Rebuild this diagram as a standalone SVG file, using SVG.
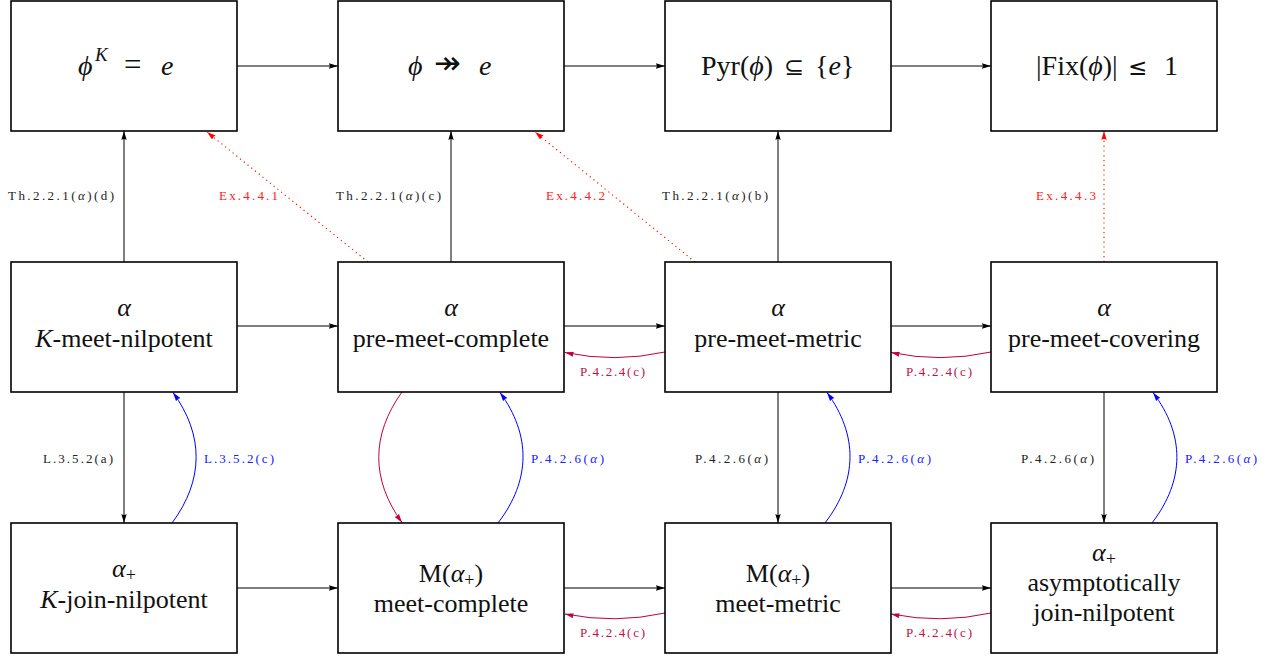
<svg xmlns="http://www.w3.org/2000/svg" width="1276" height="662" viewBox="0 0 1276 662">
<defs>
<style>
.box{fill:#fff;stroke:#000;stroke-width:1.6}
.t{font-family:'Liberation Serif',serif;font-size:26px;fill:#111;text-anchor:middle}
.m{font-family:'Liberation Serif',serif;font-size:28px;fill:#111}
.sym{font-family:'DejaVu Sans',sans-serif}
.i{font-style:italic}
.lb{font-family:'Liberation Serif',serif;font-size:13px;text-anchor:middle}
.k{fill:#222}
.r{fill:#ff2020}
.p{fill:#c0104a}
.b{fill:#2020ff}
.ek{fill:none;stroke:#000;stroke-width:1}
.er{fill:none;stroke:#ff0000;stroke-width:1.1;stroke-dasharray:1.2 3.6}
.ep{fill:none;stroke:#bf0040;stroke-width:1}
.eb{fill:none;stroke:#0000ff;stroke-width:1}
</style>
<marker id="ak" viewBox="0 0 10 6" refX="10" refY="3" markerWidth="9" markerHeight="5.4" markerUnits="userSpaceOnUse" orient="auto"><path d="M0,0 L10,3 L0,6 Q2,3 0,0z" fill="#000"/></marker>
<marker id="ar" viewBox="0 0 10 6" refX="10" refY="3" markerWidth="9" markerHeight="5.4" markerUnits="userSpaceOnUse" orient="auto"><path d="M0,0 L10,3 L0,6 Q2,3 0,0z" fill="#ff0000"/></marker>
<marker id="ap" viewBox="0 0 10 6" refX="10" refY="3" markerWidth="9" markerHeight="5.4" markerUnits="userSpaceOnUse" orient="auto"><path d="M0,0 L10,3 L0,6 Q2,3 0,0z" fill="#bf0040"/></marker>
<marker id="ab" viewBox="0 0 10 6" refX="10" refY="3" markerWidth="9" markerHeight="5.4" markerUnits="userSpaceOnUse" orient="auto"><path d="M0,0 L10,3 L0,6 Q2,3 0,0z" fill="#0000ff"/></marker>
</defs>
<rect width="1276" height="662" fill="#fff"/>

<g id="connectors">
<path class="ek" d="M237,66 H338" marker-end="url(#ak)"/>
<path class="ek" d="M564,66 H665" marker-end="url(#ak)"/>
<path class="ek" d="M891,66 H991" marker-end="url(#ak)"/>
<path class="ek" d="M124,262 V131" marker-end="url(#ak)"/>
<path class="ek" d="M451,262 V131" marker-end="url(#ak)"/>
<path class="ek" d="M778,262 V131" marker-end="url(#ak)"/>
<path class="er" d="M368,262 L207,132" marker-end="url(#ar)"/>
<path class="er" d="M695,262 L535,132" marker-end="url(#ar)"/>
<path class="er" d="M1104,262 V131" marker-end="url(#ar)"/>
<path class="ek" d="M237,326 H338" marker-end="url(#ak)"/>
<path class="ek" d="M564,326 H665" marker-end="url(#ak)"/>
<path class="ek" d="M891,326 H991" marker-end="url(#ak)"/>
<path class="ep" d="M665,352 Q615,363 565,352.5" marker-end="url(#ap)"/>
<path class="ep" d="M991,352 Q941,363 891,352.5" marker-end="url(#ap)"/>
<path class="ek" d="M124,392 V523" marker-end="url(#ak)"/>
<path class="eb" d="M172,523 C204,480 204,435 173,392.5" marker-end="url(#ab)"/>
<path class="ep" d="M402,392 C371,435 371,480 402,522.5" marker-end="url(#ap)"/>
<path class="eb" d="M498,523 C531,480 531,435 500,392.5" marker-end="url(#ab)"/>
<path class="ek" d="M778,392 V523" marker-end="url(#ak)"/>
<path class="eb" d="M825,523 C858,480 858,435 827,392.5" marker-end="url(#ab)"/>
<path class="ek" d="M1104,392 V523" marker-end="url(#ak)"/>
<path class="eb" d="M1152,523 C1185,480 1185,435 1153,392.5" marker-end="url(#ab)"/>
<path class="ek" d="M237,588 H338" marker-end="url(#ak)"/>
<path class="ek" d="M564,588 H665" marker-end="url(#ak)"/>
<path class="ek" d="M891,588 H991" marker-end="url(#ak)"/>
<path class="ep" d="M665,613 Q615,624 565,614" marker-end="url(#ap)"/>
<path class="ep" d="M991,613 Q941,624 891,614" marker-end="url(#ap)"/>

<text class="lb k" x="61" y="200" textLength="106" lengthAdjust="spacing">Th.2.2.1(<tspan class="i">α</tspan>)(d)</text>
<text class="lb r" x="248.5" y="200" textLength="59" lengthAdjust="spacing">Ex.4.4.1</text>
<text class="lb k" x="388.5" y="200" textLength="105" lengthAdjust="spacing">Th.2.2.1(<tspan class="i">α</tspan>)(c)</text>
<text class="lb r" x="575.5" y="200" textLength="59" lengthAdjust="spacing">Ex.4.4.2</text>
<text class="lb k" x="715" y="200" textLength="106" lengthAdjust="spacing">Th.2.2.1(<tspan class="i">α</tspan>)(b)</text>
<text class="lb r" x="1066" y="200" textLength="60" lengthAdjust="spacing">Ex.4.4.3</text>
<text class="lb p" x="612.5" y="376" textLength="65" lengthAdjust="spacing">P.4.2.4(c)</text>
<text class="lb p" x="939" y="376" textLength="66" lengthAdjust="spacing">P.4.2.4(c)</text>
<text class="lb p" x="612.5" y="637" textLength="65" lengthAdjust="spacing">P.4.2.4(c)</text>
<text class="lb p" x="939" y="637" textLength="66" lengthAdjust="spacing">P.4.2.4(c)</text>
<text class="lb k" x="78" y="463" textLength="70" lengthAdjust="spacing">L.3.5.2(a)</text>
<text class="lb b" x="239" y="463" textLength="70" lengthAdjust="spacing">L.3.5.2(c)</text>
<text class="lb b" x="567.5" y="463" textLength="73" lengthAdjust="spacing">P.4.2.6(<tspan class="i">α</tspan>)</text>
<text class="lb k" x="731.5" y="463" textLength="73" lengthAdjust="spacing">P.4.2.6(<tspan class="i">α</tspan>)</text>
<text class="lb b" x="894.5" y="463" textLength="73" lengthAdjust="spacing">P.4.2.6(<tspan class="i">α</tspan>)</text>
<text class="lb k" x="1057.5" y="463" textLength="73" lengthAdjust="spacing">P.4.2.6(<tspan class="i">α</tspan>)</text>
<text class="lb b" x="1221" y="463" textLength="72" lengthAdjust="spacing">P.4.2.6(<tspan class="i">α</tspan>)</text>
</g>

<g id="n-phiK">
<rect class="box" x="11" y="1" width="226" height="130"/>
<text class="m" y="75"><tspan class="i" x="78">ϕ</tspan><tspan class="i" x="95" y="61" font-size="19">K</tspan><tspan x="124" y="75" font-size="31">=</tspan><tspan class="i" x="161">e</tspan></text>
</g>
<g id="n-phi-onto">
<rect class="box" x="338" y="1" width="226" height="130"/>
<text class="m" y="75"><tspan class="i" x="408">ϕ</tspan><tspan class="sym" x="434" y="74" font-size="32">↠</tspan><tspan class="i" x="479" y="75">e</tspan></text>
</g>
<g id="n-pyr">
<rect class="box" x="665" y="1" width="226" height="130"/>
<text class="m" y="75"><tspan x="701">Pyr(</tspan><tspan class="i">ϕ</tspan><tspan>)</tspan><tspan class="sym" x="784" font-size="24">⊆</tspan><tspan x="815">{</tspan><tspan class="i">e</tspan><tspan>}</tspan></text>
</g>
<g id="n-fix">
<rect class="box" x="991" y="1" width="226" height="130"/>
<text class="m" y="75"><tspan x="1036">|Fix(</tspan><tspan class="i">ϕ</tspan><tspan>)|</tspan><tspan class="sym" x="1128" font-size="23">≤</tspan><tspan x="1164">1</tspan></text>
</g>

<g id="n-Kmeet">
<rect class="box" x="11" y="262" width="226" height="130"/>
<text class="t i" x="124" y="316">α</text>
<text class="t" x="124" y="347"><tspan class="i">K</tspan>-meet-nilpotent</text>
</g>
<g id="n-premeetcomplete">
<rect class="box" x="338" y="262" width="226" height="130"/>
<text class="t i" x="451" y="316">α</text>
<text class="t" x="451" y="347">pre-meet-complete</text>
</g>
<g id="n-premeetmetric">
<rect class="box" x="665" y="262" width="226" height="130"/>
<text class="t i" x="778" y="316">α</text>
<text class="t" x="778" y="347">pre-meet-metric</text>
</g>
<g id="n-premeetcovering">
<rect class="box" x="991" y="262" width="226" height="130"/>
<text class="t i" x="1104" y="316">α</text>
<text class="t" x="1104" y="347">pre-meet-covering</text>
</g>

<g id="n-Kjoin">
<rect class="box" x="11" y="523" width="226" height="130"/>
<text class="t" x="124" y="577"><tspan class="i">α</tspan><tspan font-size="18" dy="4">+</tspan></text>
<text class="t" x="124" y="608"><tspan class="i">K</tspan>-join-nilpotent</text>
</g>
<g id="n-meetcomplete">
<rect class="box" x="338" y="523" width="226" height="130"/>
<text class="t" x="451" y="582">M(<tspan class="i">α</tspan><tspan font-size="18" dy="4">+</tspan><tspan dy="-4">)</tspan></text>
<text class="t" x="451" y="612">meet-complete</text>
</g>
<g id="n-meetmetric">
<rect class="box" x="665" y="523" width="226" height="130"/>
<text class="t" x="778" y="582">M(<tspan class="i">α</tspan><tspan font-size="18" dy="4">+</tspan><tspan dy="-4">)</tspan></text>
<text class="t" x="778" y="612">meet-metric</text>
</g>
<g id="n-asymp">
<rect class="box" x="991" y="523" width="226" height="130"/>
<text class="t" x="1104" y="561"><tspan class="i">α</tspan><tspan font-size="18" dy="4">+</tspan></text>
<text class="t" x="1104" y="591">asymptotically</text>
<text class="t" x="1104" y="621">join-nilpotent</text>
</g>
</svg>
